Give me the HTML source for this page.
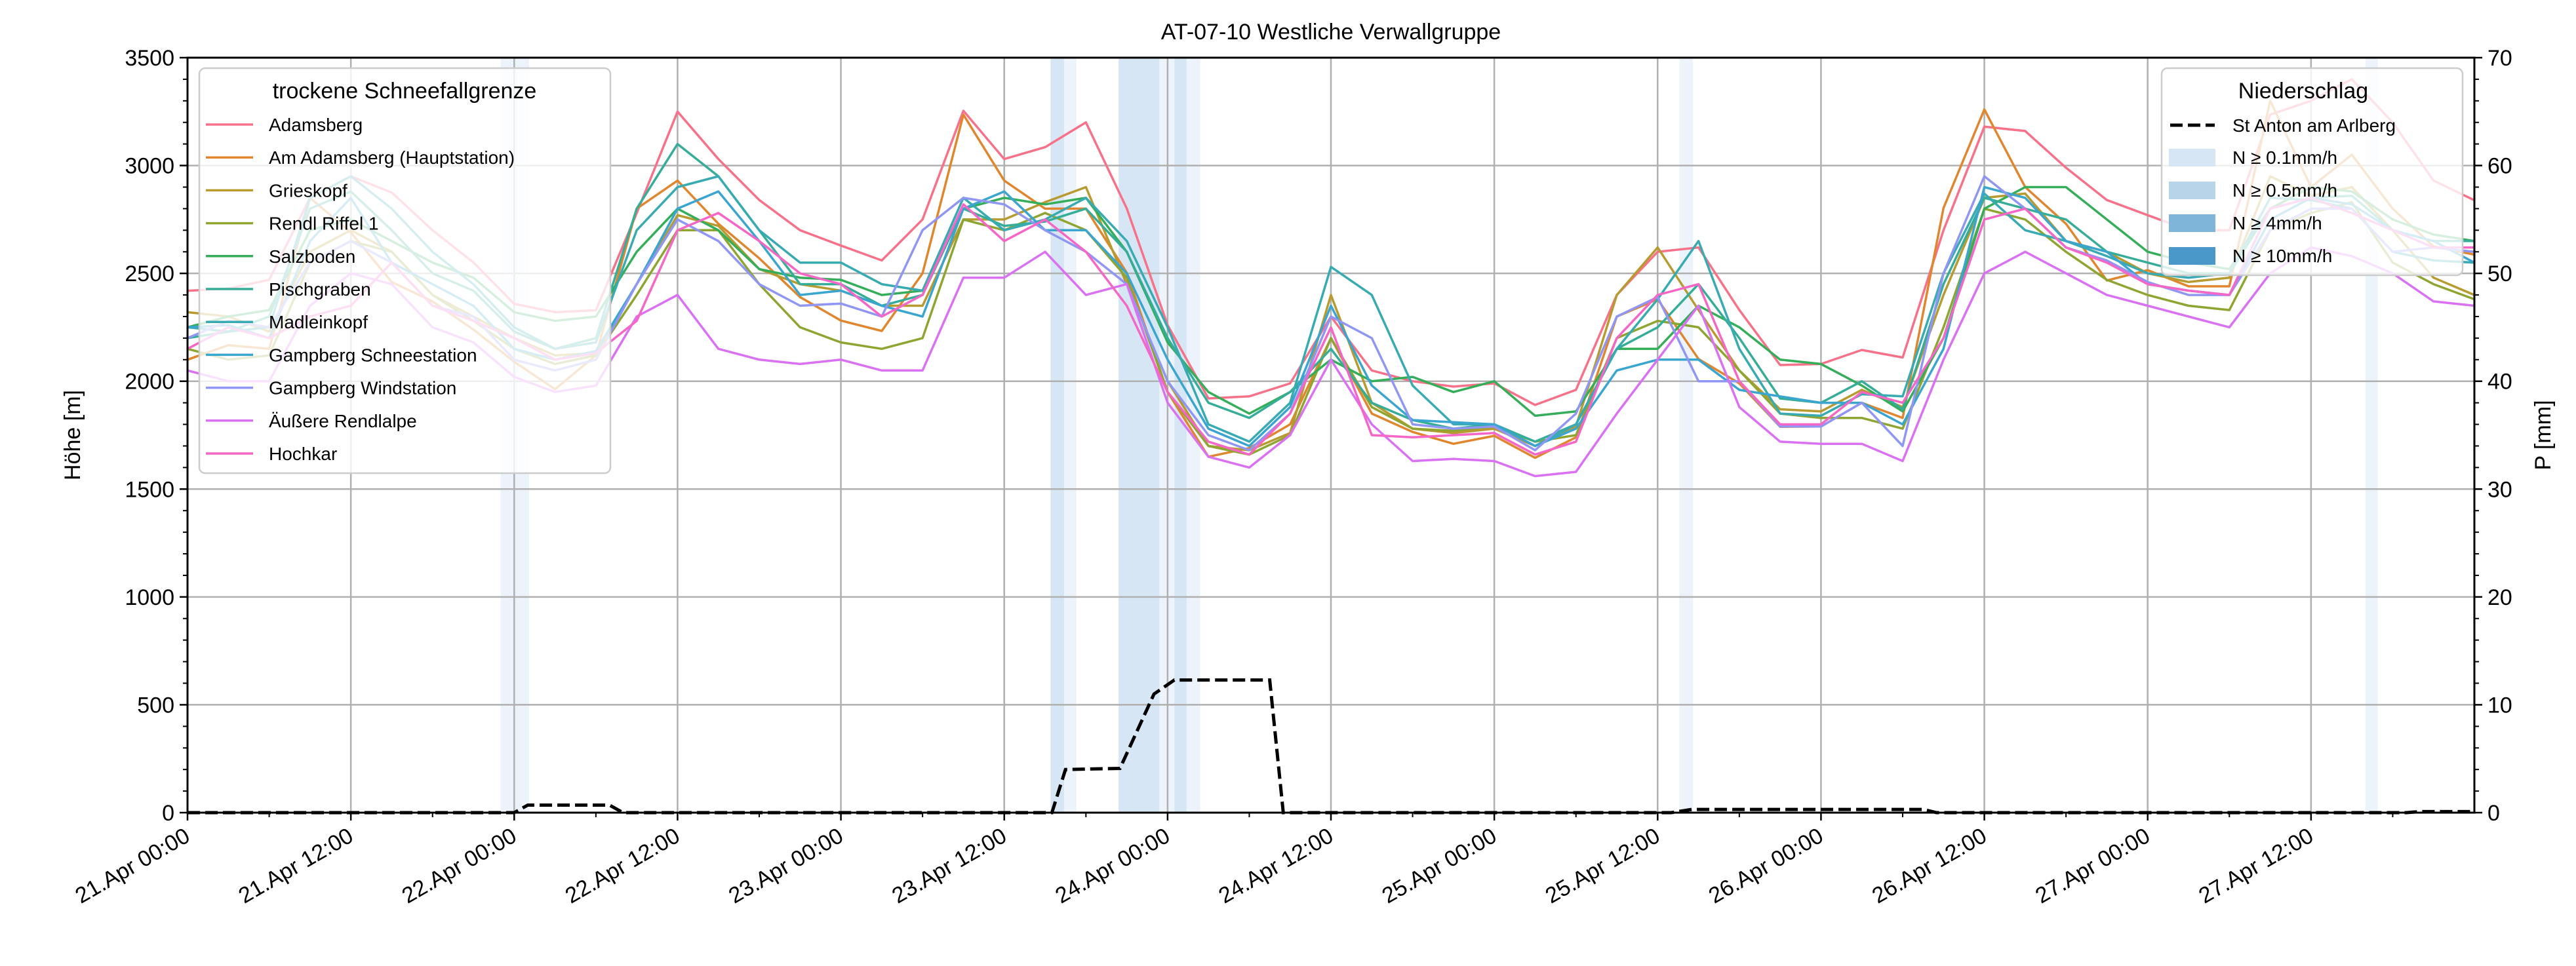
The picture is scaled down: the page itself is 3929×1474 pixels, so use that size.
<!DOCTYPE html>
<html><head><meta charset="utf-8"><style>
html,body{margin:0;padding:0;background:#fff;}
svg{display:block;font-family:"Liberation Sans","DejaVu Sans",sans-serif;}
</style></head><body>
<svg id="chart" width="3929" height="1474" viewBox="0 0 3929 1474" xmlns="http://www.w3.org/2000/svg">
<text x="2030" y="60" font-size="34" text-anchor="middle">AT-07-10 Westliche Verwallgruppe</text>
<g id="bands"></g><g id="grid"></g><g id="series"></g><g id="precip"></g><g id="axes"></g><g id="legends"></g>
</svg>
<script>
const stepHours = 3;
const stationNames = ["Adamsberg","Am Adamsberg (Hauptstation)","Grieskopf","Rendl Riffel 1","Salzboden","Pischgraben","Madleinkopf","Gampberg Schneestation","Gampberg Windstation","Äußere Rendlalpe","Hochkar"];
const adamsberg = [2419,2430,2470,2851,2950,2875,2700,2551,2359,2320,2329,2779,3250,3030,2840,2700,2629,2560,2750,3254,3030,3085,3200,2801,2260,1920,1930,1990,2300,2050,2000,1975,1990,1890,1960,2400,2600,2620,2330,2075,2080,2145,2110,2700,3180,3160,2990,2840,2770,2700,2700,3236,3300,3400,3200,2930,2839];
const amAdamsberg = [2100,2167,2150,2850,2690,2460,2370,2240,2090,1963,2120,2800,2930,2730,2570,2390,2281,2233,2500,3236,2930,2800,2800,2503,1950,1650,1690,1800,2200,1850,1765,1710,1747,1645,1740,2300,2380,2103,1990,1789,1790,1900,1830,2803,3260,2900,2730,2467,2515,2440,2440,3300,2900,3050,2800,2625,2587];
const grieskopf = [2320,2300,2230,2600,2700,2600,2400,2300,2200,2120,2130,2450,2770,2720,2520,2450,2420,2350,2350,2750,2750,2830,2900,2450,2000,1700,1680,1760,2400,1900,1780,1760,1780,1700,1790,2400,2620,2330,2050,1870,1860,1960,1880,2400,2850,2870,2650,2600,2500,2460,2480,2950,2860,2900,2700,2480,2400];
const rendlRiffel = [2150,2100,2120,2550,2650,2600,2400,2280,2150,2080,2120,2400,2700,2700,2450,2250,2180,2150,2200,2750,2700,2780,2700,2480,1950,1700,1660,1750,2200,1880,1780,1770,1790,1720,1750,2200,2280,2250,2050,1850,1830,1830,1780,2250,2800,2750,2600,2470,2400,2350,2330,2700,2780,2830,2550,2450,2380];
const salzboden = [2250,2300,2330,2700,2750,2650,2550,2480,2320,2280,2300,2600,2800,2700,2520,2480,2470,2400,2420,2800,2850,2820,2850,2600,2180,1950,1850,1950,2100,2000,2020,1950,2000,1840,1860,2150,2150,2350,2250,2100,2080,1980,1860,2200,2800,2900,2900,2750,2600,2550,2520,2800,2900,2880,2750,2680,2650];
const pischgraben = [2200,2230,2300,2800,2880,2700,2500,2420,2230,2150,2200,2800,3100,2950,2700,2450,2450,2350,2400,2800,2720,2740,2800,2600,2200,1900,1830,1950,2150,1900,1820,1780,1800,1720,1800,2150,2250,2450,2200,1920,1900,2000,1870,2450,2850,2800,2750,2600,2550,2500,2500,2800,2850,2860,2700,2650,2650];
const madleinkopf = [2250,2230,2250,2850,2950,2800,2600,2450,2250,2150,2180,2700,2900,2950,2700,2550,2550,2450,2420,2850,2700,2750,2850,2650,2250,1800,1720,1900,2530,2400,1980,1800,1800,1700,1800,2150,2380,2650,2150,1850,1840,1940,1930,2500,2870,2700,2650,2580,2500,2480,2500,2850,2840,2800,2600,2560,2550];
const gampbergSchnee = [2250,2260,2200,2650,2850,2550,2450,2350,2150,2100,2140,2450,2800,2880,2650,2400,2420,2350,2300,2800,2880,2700,2700,2500,2100,1780,1700,1880,2350,1980,1820,1810,1800,1700,1780,2050,2100,2100,1960,1930,1900,1900,1800,2150,2900,2850,2650,2600,2450,2420,2400,2750,2850,2820,2700,2650,2550];
const gampbergWind = [2200,2280,2250,2550,2650,2550,2350,2300,2100,2050,2100,2450,2750,2650,2450,2350,2360,2300,2700,2850,2820,2700,2600,2450,2000,1750,1680,1850,2300,2200,1800,1780,1790,1680,1850,2300,2390,2000,2000,1790,1790,1900,1700,2500,2950,2800,2620,2560,2460,2400,2400,2700,2800,2800,2600,2620,2600];
const aeussereRendlalpe = [2050,2000,2000,2350,2500,2450,2250,2180,2020,1950,1980,2300,2400,2150,2100,2080,2100,2050,2050,2480,2480,2600,2400,2450,1900,1650,1600,1750,2100,1800,1630,1640,1630,1560,1580,1850,2100,2350,1880,1720,1710,1710,1630,2100,2500,2600,2500,2400,2350,2300,2250,2500,2620,2580,2500,2370,2350];
const hochkar = [2150,2250,2200,2300,2350,2550,2350,2280,2200,2100,2130,2280,2700,2780,2650,2500,2450,2300,2400,2820,2650,2750,2600,2350,1950,1720,1660,1850,2250,1750,1740,1750,1760,1660,1720,2200,2400,2450,2000,1800,1800,1950,1900,2200,2750,2800,2620,2550,2450,2420,2400,2800,2850,2780,2700,2620,2620];
const seriesValues = [adamsberg,amAdamsberg,grieskopf,rendlRiffel,salzboden,pischgraben,madleinkopf,gampbergSchnee,gampbergWind,aeussereRendlalpe,hochkar];
const precipHours = [0,24,25,31,32,63.5,64.5,68.5,71,72.5,79.5,80.5,109,110.5,127.5,128.5,163,164,168];
const precipValues = [0,0,0.7,0.7,0,0,4,4.1,11,12.3,12.3,0,0,0.3,0.3,0,0,0.1,0.1];
const bandStart = [23.0,63.4,64.4,68.4,71.4,72.5,73.4,109.6,160.0];
const bandEnd = [25.1,64.4,65.3,71.4,72.5,73.4,74.4,110.6,160.9];
const bandLevel = [0,1,0,1,0,1,0,0,0];
const xTickLabels = ["21.Apr 00:00","21.Apr 12:00","22.Apr 00:00","22.Apr 12:00","23.Apr 00:00","23.Apr 12:00","24.Apr 00:00","24.Apr 12:00","25.Apr 00:00","25.Apr 12:00","26.Apr 00:00","26.Apr 12:00","27.Apr 00:00","27.Apr 12:00"];
const yTickLabels = [0,500,1000,1500,2000,2500,3000,3500];
const y2TickLabels = [0,10,20,30,40,50,60,70];
const precipLegendLabels = ["N ≥ 0.1mm/h","N ≥ 0.5mm/h","N ≥ 4mm/h","N ≥ 10mm/h"];

const colors = ["#f77189","#e0862f","#b89b30","#8fa531","#35ae5a","#36ad98","#38aab2","#3aa5cf","#8f96f4","#da71f3","#f566c6"];
const bandColors = ["#edf3fb","#d6e6f4"];
const legendPatchColors = ["#d6e6f4","#b8d4e9","#7fb5d8","#4a97c9"];
const L=286,R=3774,T=88,B=1240;
const xS = h => L + h/168*(R-L);
const yS = v => B - v/3500*(B-T);
const y2S = p => B - p/70*(B-T);
const NS="http://www.w3.org/2000/svg";
function mk(tag, attrs, parent){const e=document.createElementNS(NS,tag);for(const k in attrs)e.setAttribute(k,attrs[k]);parent.appendChild(e);return e;}
const gB=document.getElementById('bands'),gG=document.getElementById('grid'),gS=document.getElementById('series'),gP=document.getElementById('precip'),gA=document.getElementById('axes'),gL=document.getElementById('legends');

bandStart.forEach((s,i)=>{
  const r=mk('rect',{x:xS(s),y:T,width:xS(bandEnd[i])-xS(s),height:B-T,fill:bandColors[bandLevel[i]]},gB);
  
  
});
xTickLabels.forEach((lab,i)=>{
  const x=xS(i*12);
  const gl=mk('line',{x1:x,y1:T,x2:x,y2:B,stroke:"#b0b0b0","stroke-width":2.5},gG);
  
  
  mk('line',{x1:x,y1:B,x2:x,y2:B+12,stroke:"#000","stroke-width":2.5},gA);
  mk('line',{x1:xS(i*12+6),y1:B,x2:xS(i*12+6),y2:B+7,stroke:"#000","stroke-width":2},gA);
  const t=mk('text',{x:x+6,y:B+42,"font-size":34,"text-anchor":"end",transform:`rotate(-30 ${x+6} ${B+42})`},gA);
  t.textContent=lab;
  
  
});
yTickLabels.forEach(v=>{
  const y=yS(v);
  if(v>0&&v<3500){const gl=mk('line',{x1:L,y1:y,x2:R,y2:y,stroke:"#b0b0b0","stroke-width":2.5},gG);
  
  }
  mk('line',{x1:L-12,y1:y,x2:L,y2:y,stroke:"#000","stroke-width":2.5},gA);
  const t=mk('text',{x:L-20,y:y+12,"font-size":34,"text-anchor":"end"},gA);
  t.textContent=v;
  
  
});
for(let v=100;v<3500;v+=100){if(v%500)mk('line',{x1:L-7,y1:yS(v),x2:L,y2:yS(v),stroke:"#000","stroke-width":2},gA);}
y2TickLabels.forEach(p=>{
  const y=y2S(p);
  mk('line',{x1:R,y1:y,x2:R+12,y2:y,stroke:"#000","stroke-width":2.5},gA);
  const t=mk('text',{x:R+20,y:y+12,"font-size":34},gA);
  t.textContent=p;
  
  
});
for(let p=2;p<70;p+=2){if(p%10)mk('line',{x1:R,y1:y2S(p),x2:R+7,y2:y2S(p),stroke:"#000","stroke-width":2},gA);}
seriesValues.forEach((arr,si)=>{
  const d=arr.map((v,i)=>(i?'L':'M')+xS(i*stepHours).toFixed(1)+','+yS(v).toFixed(1)).join('');
  const p=mk('path',{d:d,fill:"none",stroke:colors[si],"stroke-width":3.5,"stroke-linejoin":"round"},gS);
  
  
});
const pd=precipHours.map((h,i)=>(i?'L':'M')+xS(h).toFixed(1)+','+y2S(precipValues[i]).toFixed(1)).join('');
const pl=mk('path',{d:pd,fill:"none",stroke:"#000","stroke-width":5,"stroke-dasharray":"19,8"},gP);


const frame=mk('rect',{x:L,y:T,width:R-L,height:B-T,fill:"none",stroke:"#000","stroke-width":3},gA);


const yl=mk('text',{x:122,y:664,"font-size":34,"text-anchor":"middle",transform:"rotate(-90 122 664)"},gA);
yl.textContent="Höhe [m]";


const y2l=mk('text',{x:3890,y:664,"font-size":34,"text-anchor":"middle",transform:"rotate(-90 3890 664)"},gA);
y2l.textContent="P [mm]";



// legend 1
const lg1=mk('g',{},gL);


mk('rect',{x:304,y:104,width:627,height:618,rx:9,fill:"#fff","fill-opacity":0.8,stroke:"#cccccc","stroke-width":2.5},lg1);
const t1=mk('text',{x:617,y:150,"font-size":34,"text-anchor":"middle"},lg1);t1.textContent="trockene Schneefallgrenze";
stationNames.forEach((n,i)=>{
  const y=190+i*50.2;
  const e=mk('g',{},lg1);
  
  
  mk('line',{x1:314,y1:y,x2:386,y2:y,stroke:colors[i],"stroke-width":3.5},e);
  const t=mk('text',{x:410,y:y+10,"font-size":28},e);t.textContent=n;
});
// legend 2
const lg2=mk('g',{},gL);


mk('rect',{x:3297,y:104,width:459,height:316,rx:9,fill:"#fff","fill-opacity":0.8,stroke:"#cccccc","stroke-width":2.5},lg2);
const t2=mk('text',{x:3513,y:150,"font-size":34,"text-anchor":"middle"},lg2);t2.textContent="Niederschlag";
const e0=mk('g',{},lg2);


mk('line',{x1:3310,y1:191,x2:3378,y2:191,stroke:"#000","stroke-width":5,"stroke-dasharray":"19,8"},e0);
const tt=mk('text',{x:3405,y:201,"font-size":28},e0);tt.textContent="St Anton am Arlberg";
precipLegendLabels.forEach((n,i)=>{
  const y=240+i*50;
  const e=mk('g',{},lg2);
  
  
  mk('rect',{x:3308,y:y-13,width:71,height:27,fill:legendPatchColors[i]},e);
  const t=mk('text',{x:3405,y:y+10,"font-size":28},e);t.textContent=n;
});
</script>
</body></html>
